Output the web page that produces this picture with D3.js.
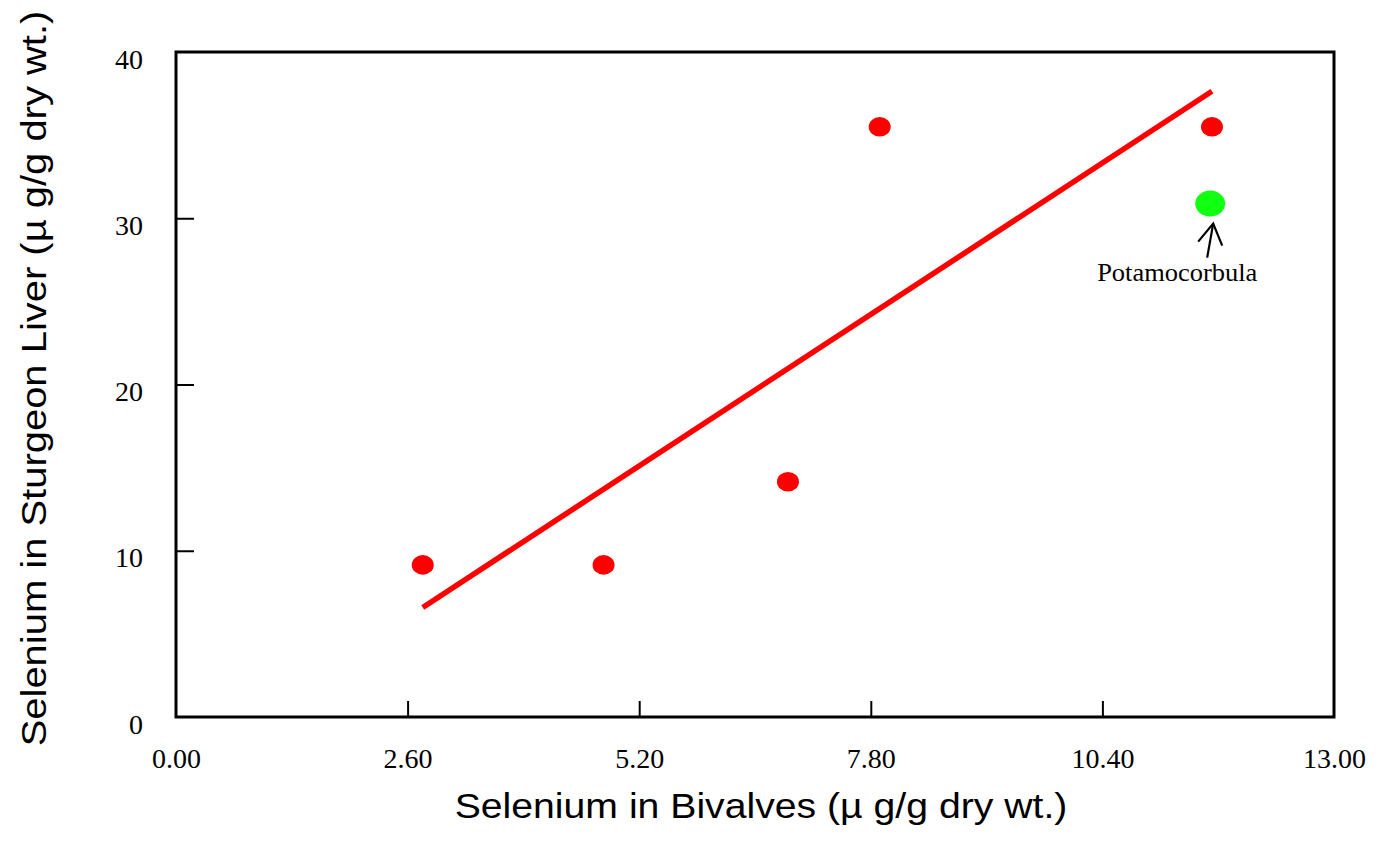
<!DOCTYPE html>
<html>
<head>
<meta charset="utf-8">
<script src="https://cdn.jsdelivr.net/npm/d3@7"></script>
<style>
  html, body { margin: 0; padding: 0; background: #fff; }
  svg { display: block; }
</style>
</head>
<body>
<svg id="chart" width="1380" height="841"></svg>
<script>
// Selenium in bivalves vs. selenium in sturgeon liver (µg/g dry wt.)
const bivalveSe = [2.77, 4.80, 6.87, 7.90, 11.63];
const liverSe   = [9.15, 9.15, 14.15, 35.5, 35.5];

// Potamocorbula site, shown separately
const potamoBivalve = [11.61];
const potamoLiver   = [30.88];
const potamoLabel   = ["Potamocorbula"];

const xTicks = [0, 2.6, 5.2, 7.8, 10.4, 13];
const yTicks = [0, 10, 20, 30, 40];

const xTitle = "Selenium in Bivalves (\u00b5 g/g dry wt.)";
const yTitle = "Selenium in Sturgeon Liver (\u00b5 g/g dry wt.)";

const svg = d3.select("#chart");
const plot = { left: 176, right: 1334, top: 52, bottom: 717 };

const x = d3.scaleLinear().domain([0, 13]).range([plot.left, plot.right]);
const y = d3.scaleLinear().domain([0, 40]).range([plot.bottom, plot.top]);

const serif = "'Liberation Serif', 'Times New Roman', serif";
const sans = "'Liberation Sans', Arial, sans-serif";

// inward ticks along the bottom
const xAxis = d3.axisBottom(x).tickValues(xTicks).tickFormat(d3.format(".2f"))
  .tickSizeInner(-16).tickSizeOuter(0).tickPadding(34);
const gx = svg.append("g").attr("transform", `translate(0,${plot.bottom})`).call(xAxis);
gx.select(".domain").remove();
gx.selectAll(".tick line").attr("stroke", "#000").attr("stroke-width", 2);
gx.selectAll(".tick text").attr("font-family", serif).attr("font-size", 28)
  .attr("fill", "#000").attr("dy", 0).attr("y", 51);
gx.selectAll(".tick").filter(d => d === 0 || d === 13).select("line").remove();

// inward ticks along the left
const yAxis = d3.axisLeft(y).tickValues(yTicks).tickFormat(d3.format("d"))
  .tickSizeInner(-18).tickSizeOuter(0).tickPadding(33);
const gy = svg.append("g").attr("transform", `translate(${plot.left},0)`).call(yAxis);
gy.select(".domain").remove();
gy.selectAll(".tick line").attr("stroke", "#000").attr("stroke-width", 2);
gy.selectAll(".tick text").attr("font-family", serif).attr("font-size", 28)
  .attr("fill", "#000").attr("dy", 16).attr("x", -33);
gy.selectAll(".tick").filter(d => d === 0 || d === 40).select("line").remove();

// plot frame
svg.append("rect")
  .attr("x", plot.left).attr("y", plot.top)
  .attr("width", plot.right - plot.left).attr("height", plot.bottom - plot.top)
  .attr("fill", "none").attr("stroke", "#000").attr("stroke-width", 3);

// least-squares fit through the red sites
const pts = bivalveSe.map((v, i) => [v, liverSe[i]]);
const mx = d3.mean(pts, p => p[0]);
const my = d3.mean(pts, p => p[1]);
const slope = d3.sum(pts, p => (p[0] - mx) * (p[1] - my)) / d3.sum(pts, p => (p[0] - mx) ** 2);
const icpt = my - slope * mx;
const [x0, x1] = d3.extent(bivalveSe);
const fit = [[x0, icpt + slope * x0], [x1, icpt + slope * x1]];

svg.append("path")
  .attr("d", d3.line().x(d => x(d[0])).y(d => y(d[1]))(fit))
  .attr("fill", "none").attr("stroke", "#ff0000").attr("stroke-width", 5.5);

// red sites
svg.append("g").selectAll("ellipse").data(pts).join("ellipse")
  .attr("cx", d => x(d[0])).attr("cy", d => y(d[1]))
  .attr("rx", 11).attr("ry", 9.8).attr("fill", "#ff0000");

// Potamocorbula site
svg.append("g").selectAll("ellipse").data(potamoBivalve).join("ellipse")
  .attr("cx", (d, i) => x(d)).attr("cy", (d, i) => y(potamoLiver[i]))
  .attr("rx", 15).attr("ry", 13).attr("fill", "#11ff11");

// annotation: arrow and label below the green point
potamoBivalve.forEach((d, i) => {
  const cx = x(d), cy = y(potamoLiver[i]);
  const tip = [cx + 3, cy + 20];
  const tail = [cx - 3, cy + 54];
  const g = svg.append("g").attr("stroke", "#000").attr("stroke-width", 2.2).attr("fill", "none");
  g.append("line").attr("x1", tail[0]).attr("y1", tail[1]).attr("x2", tip[0]).attr("y2", tip[1]);
  g.append("polyline").attr("points", `${tip[0] - 15},${tip[1] + 18} ${tip[0]},${tip[1]} ${tip[0] + 9},${tip[1] + 22}`);
  svg.append("text")
    .attr("transform", `translate(${cx - 33},${cy + 77}) scale(1.08,1)`)
    .attr("text-anchor", "middle").attr("font-family", serif).attr("font-size", 24.5)
    .attr("fill", "#000").text(potamoLabel[i]);
});

// axis titles
svg.append("text")
  .attr("transform", "translate(761,818) scale(1.12,1)").attr("text-anchor", "middle")
  .attr("font-family", sans).attr("font-size", 35).attr("fill", "#000").text(xTitle);

svg.append("text")
  .attr("transform", "translate(46,378.5) rotate(-90) scale(1.11,1)").attr("text-anchor", "middle")
  .attr("font-family", sans).attr("font-size", 36).attr("fill", "#000").text(yTitle);
</script>
</body>
</html>
